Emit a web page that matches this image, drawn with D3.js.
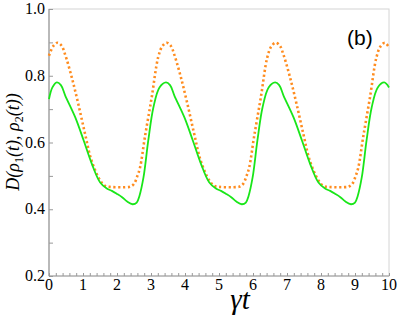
<!DOCTYPE html>
<html>
<head>
<meta charset="UTF-8">
<script src="https://cdn.jsdelivr.net/npm/d3@7"></script>
<style>
  body { margin: 0; background: #fff; }
  svg { display: block; }
</style>
</head>
<body>
<svg width="399" height="320"></svg>
<script>
// data (γt, D)
var greenT = [0, 0.10, 0.23, 0.35, 0.48, 0.77, 1.02, 1.26, 1.50, 1.70, 1.85, 2.00, 2.15, 2.30, 2.46, 2.58, 2.66, 2.78, 2.92, 3.07, 3.25, 3.44,
  3.56, 3.69, 3.98, 4.23, 4.47, 4.71, 4.91, 5.06, 5.21, 5.36, 5.51, 5.67, 5.79, 5.87, 5.99, 6.13, 6.28, 6.46, 6.65,
  6.77, 6.90, 7.19, 7.44, 7.68, 7.92, 8.12, 8.27, 8.42, 8.57, 8.72, 8.88, 9.00, 9.08, 9.20, 9.34, 9.49, 9.67, 9.86, 10.0];
var greenD = [0.730, 0.765, 0.780, 0.772, 0.740, 0.676, 0.606, 0.536, 0.481, 0.462, 0.455, 0.446, 0.436, 0.423, 0.415, 0.420, 0.440, 0.496, 0.606, 0.705, 0.765, 0.780,
  0.772, 0.740, 0.676, 0.606, 0.536, 0.481, 0.462, 0.455, 0.446, 0.436, 0.423, 0.415, 0.420, 0.440, 0.496, 0.606, 0.705, 0.765, 0.780,
  0.772, 0.740, 0.676, 0.606, 0.536, 0.481, 0.462, 0.455, 0.446, 0.436, 0.423, 0.415, 0.420, 0.440, 0.496, 0.606, 0.705, 0.765, 0.780, 0.765];

var orangeT = [0, 0.12, 0.25, 0.37, 0.47, 0.67, 0.86, 1.06, 1.25, 1.50, 1.65, 1.79, 2.00, 2.23, 2.40, 2.50, 2.60, 2.68, 2.82, 3.02, 3.21, 3.33, 3.46,
  3.58, 3.68, 3.88, 4.07, 4.27, 4.46, 4.71, 4.86, 5.00, 5.21, 5.44, 5.61, 5.71, 5.81, 5.89, 6.03, 6.23, 6.42, 6.54, 6.67,
  6.79, 6.89, 7.09, 7.28, 7.48, 7.67, 7.92, 8.07, 8.21, 8.42, 8.65, 8.82, 8.92, 9.02, 9.10, 9.24, 9.44, 9.63, 9.75, 9.88, 10.0];
var orangeD = [0.860, 0.888, 0.899, 0.890, 0.865, 0.795, 0.716, 0.626, 0.546, 0.487, 0.470, 0.467, 0.466, 0.466, 0.468, 0.476, 0.500, 0.526, 0.616, 0.735, 0.855, 0.888, 0.899,
  0.890, 0.865, 0.795, 0.716, 0.626, 0.546, 0.487, 0.470, 0.467, 0.466, 0.466, 0.468, 0.476, 0.500, 0.526, 0.616, 0.735, 0.855, 0.888, 0.899,
  0.890, 0.865, 0.795, 0.716, 0.626, 0.546, 0.487, 0.470, 0.467, 0.466, 0.466, 0.468, 0.476, 0.500, 0.526, 0.616, 0.735, 0.855, 0.888, 0.899, 0.885];

var xTicks = [0, 1, 2, 3, 4, 5, 6, 7, 8, 9, 10];
var yTicks = [0.2, 0.4, 0.6, 0.8, 1.0];

var svg = d3.select("svg");
var margin = {top: 9, right: 10, bottom: 44, left: 49};
var width = 399 - margin.left - margin.right;   // 340
var height = 320 - margin.top - margin.bottom;  // 267

var x = d3.scaleLinear().domain([0, 10]).range([0, width]);
var y = d3.scaleLinear().domain([0.2, 1.0]).range([height, 0]);

var g = svg.append("g")
  .attr("transform", "translate(" + margin.left + "," + margin.top + ")");

// frame: light top/right
g.append("rect")
  .attr("width", width).attr("height", height)
  .attr("fill", "none").attr("stroke", "#d4d4d4").attr("stroke-width", 1);

// minor ticks inward
var xMinor = d3.range(0, 10.001, 0.2);
var yMinor = d3.range(0.2, 1.0001, 0.1);

g.append("g").attr("transform", "translate(0," + height + ")")
  .call(d3.axisBottom(x).tickValues(xMinor).tickSize(-3).tickFormat(""))
  .call(function(s) { s.select(".domain").remove(); s.selectAll("line").attr("stroke", "#999"); });

g.append("g")
  .call(d3.axisLeft(y).tickValues(yMinor).tickSize(-4).tickFormat(""))
  .call(function(s) { s.select(".domain").remove(); s.selectAll("line").attr("stroke", "#999"); });

// axis lines left/bottom
g.append("line").attr("x1", 0).attr("x2", 0).attr("y1", 0).attr("y2", height)
  .attr("stroke", "#999").attr("stroke-width", 1.2);
g.append("line").attr("x1", 0).attr("x2", width).attr("y1", height).attr("y2", height)
  .attr("stroke", "#999").attr("stroke-width", 1.2);

// tick labels
g.selectAll(".xl").data(xTicks).enter().append("text")
  .attr("x", function(d) { return x(d); })
  .attr("y", height + 14)
  .attr("text-anchor", "middle")
  .attr("font-family", "Liberation Serif")
  .attr("font-size", 16)
  .text(function(d) { return d; });

g.selectAll(".yl").data(yTicks).enter().append("text")
  .attr("x", -4)
  .attr("y", function(d) { return y(d) + 5; })
  .attr("text-anchor", "end")
  .attr("font-family", "Liberation Serif")
  .attr("font-size", 16)
  .text(function(d) { return d3.format(".1f")(d); });

// curves
var line = d3.line()
  .x(function(d) { return x(d[0]); })
  .y(function(d) { return y(d[1]); })
  .curve(d3.curveCatmullRom);

g.append("path")
  .datum(d3.zip(orangeT, orangeD))
  .attr("d", line)
  .attr("fill", "none")
  .attr("stroke", "#ff8c1f")
  .attr("stroke-width", 2.6)
  .attr("stroke-dasharray", "2.2,2.6");

g.append("path")
  .datum(d3.zip(greenT, greenD))
  .attr("d", line)
  .attr("fill", "none")
  .attr("stroke", "#19e619")
  .attr("stroke-width", 1.8);

// panel label
svg.append("text")
  .attr("x", 347).attr("y", 45)
  .attr("font-family", "Liberation Sans")
  .attr("font-size", 21)
  .text("(b)");

// axis titles
svg.append("text")
  .attr("x", 240).attr("y", 309)
  .attr("text-anchor", "middle")
  .attr("font-family", "Liberation Serif")
  .attr("font-style", "italic")
  .attr("font-size", 29)
  .text("γt");

var yl = svg.append("text")
  .attr("transform", "translate(19,142) rotate(-90)")
  .attr("text-anchor", "middle")
  .attr("font-family", "Liberation Serif")
  .attr("font-style", "italic")
  .attr("font-size", 18);
yl.append("tspan").text("D(ρ");
yl.append("tspan").attr("dy", 4).attr("font-size", 12).attr("font-style", "normal").text("1");
yl.append("tspan").attr("dy", -4).text("(t), ρ");
yl.append("tspan").attr("dy", 4).attr("font-size", 12).attr("font-style", "normal").text("2");
yl.append("tspan").attr("dy", -4).text("(t))");
</script>
</body>
</html>
